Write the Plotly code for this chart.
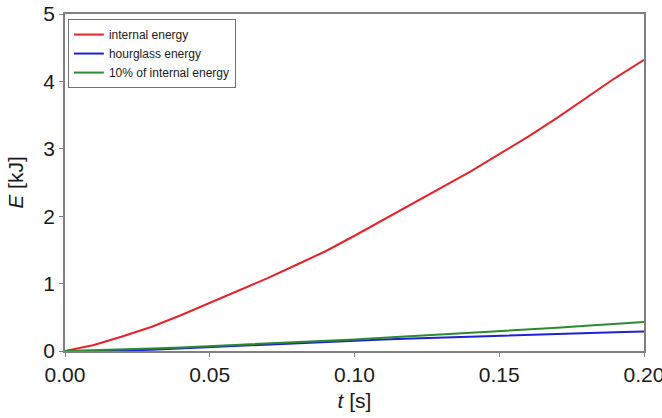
import plotly.graph_objects as go

t = [0.00, 0.01, 0.02, 0.03, 0.04, 0.05, 0.06, 0.07, 0.08, 0.09, 0.10,
     0.11, 0.12, 0.13, 0.14, 0.15, 0.16, 0.17, 0.18, 0.19, 0.20]
internal_energy = [0.00, 0.09, 0.22, 0.36, 0.53, 0.71, 0.89, 1.08, 1.28, 1.48, 1.71,
                   1.95, 2.19, 2.42, 2.66, 2.92, 3.18, 3.46, 3.76, 4.05, 4.32]
hourglass_energy = [0.000, 0.000, 0.005, 0.020, 0.040, 0.060, 0.080, 0.100, 0.120, 0.140, 0.155,
                    0.170, 0.185, 0.200, 0.215, 0.230, 0.245, 0.258, 0.270, 0.280, 0.290]
ten_pct_internal = [0.000, 0.009, 0.022, 0.036, 0.053, 0.071, 0.089, 0.108, 0.128, 0.148, 0.171,
                    0.195, 0.219, 0.242, 0.266, 0.292, 0.318, 0.346, 0.376, 0.405, 0.432]

x_ticks = [0.00, 0.05, 0.10, 0.15, 0.20]
x_ticklabels = ["0.00", "0.05", "0.10", "0.15", "0.20"]
y_ticks = [0, 1, 2, 3, 4, 5]

fig = go.Figure()
fig.add_trace(go.Scatter(x=t, y=internal_energy, mode="lines", name="internal energy",
                         line=dict(color="#e8222b", width=2)))
fig.add_trace(go.Scatter(x=t, y=hourglass_energy, mode="lines", name="hourglass energy",
                         line=dict(color="#1c22d6", width=2)))
fig.add_trace(go.Scatter(x=t, y=ten_pct_internal, mode="lines", name="10% of internal energy",
                         line=dict(color="#2a8c2e", width=2)))

axis_common = dict(showline=True, linecolor="#808080", linewidth=1.5, mirror=True,
                   ticks="outside", ticklen=4, tickcolor="#808080", tickwidth=1,
                   showgrid=False, zeroline=False, automargin=False,
                   ticklabeloverflow="allow",
                   tickfont=dict(family="Liberation Sans, Arial", size=21, color="#1a1a1a"))

fig.update_layout(
    width=662, height=418,
    margin=dict(l=65, r=18, t=14, b=67),
    plot_bgcolor="white", paper_bgcolor="white",
    font=dict(family="Liberation Sans, Arial", color="#1a1a1a"),
    showlegend=True,
    legend=dict(x=0.005, y=0.985, xanchor="left", yanchor="top",
                bordercolor="#707070", borderwidth=1, bgcolor="white",
                font=dict(family="Liberation Sans, Arial", size=12, color="#1a1a1a"),
                tracegroupgap=0, itemwidth=30),
)
fig.update_xaxes(range=[0, 0.2], tickvals=x_ticks, ticktext=x_ticklabels,
                 title=dict(text="<i>t</i> [s]", font=dict(size=21), standoff=8),
                 **axis_common)
fig.update_yaxes(range=[0, 5], tickvals=y_ticks,
                 title=dict(text="<i>E</i> [kJ]", font=dict(size=21), standoff=14),
                 **axis_common)

fig.write_html("out.html", config={"displayModeBar": False},
               post_script="document.body.style.margin='0';document.body.style.overflow='hidden';")
